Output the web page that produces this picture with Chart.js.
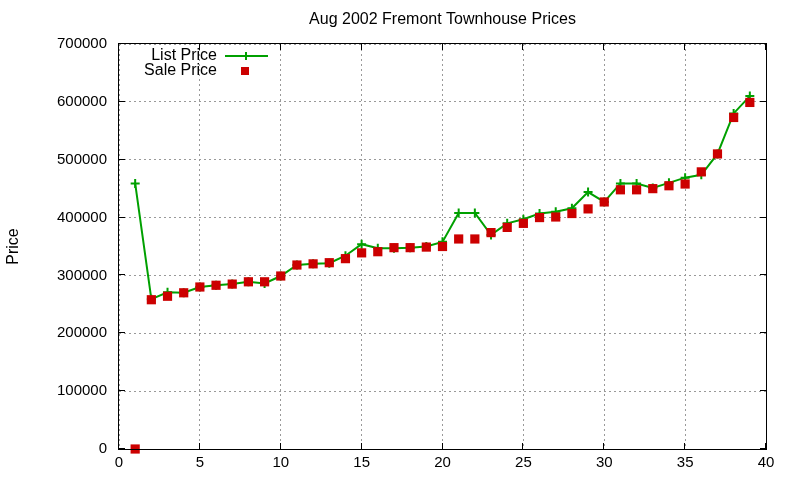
<!DOCTYPE html>
<html>
<head>
<meta charset="utf-8">
<script src="https://cdn.jsdelivr.net/npm/chart.js@4"></script>
<style>
  html, body { margin: 0; padding: 0; background: #fff; }
  #c { display: block; }
</style>
</head>
<body>
<canvas id="c" width="800" height="480"></canvas>
<script>
const houseIndex = [1, 2, 3, 4, 5, 6, 7, 8, 9, 10, 11, 12, 13, 14, 15, 16, 17, 18, 19, 20,
  21, 22, 23, 24, 25, 26, 27, 28, 29, 30, 31, 32, 33, 34, 35, 36, 37, 38, 39];
const listPrice = [459000, 259000, 271000, 270000, 280000, 283000, 285000, 289000, 286000, 299000,
  318000, 320000, 321000, 334000, 354000, 347000, 347000, 348000, 350000, 358000,
  408000, 408000, 370000, 390000, 397000, 407000, 410000, 416000, 444000, 427000,
  459000, 459000, 451000, 460000, 469000, 474000, 510000, 580000, 610000];
const salePrice = [0, 258000, 264000, 270000, 280000, 283000, 285000, 289000, 289000, 299000,
  318000, 320000, 322000, 329000, 339000, 341000, 348000, 348000, 349000, 350000,
  363000, 363000, 374000, 383000, 390000, 400000, 401000, 407000, 415000, 427000,
  448000, 448000, 450000, 455000, 458000, 479000, 510000, 573000, 599000];
const xTicks = [0, 5, 10, 15, 20, 25, 30, 35, 40];
const yTicks = [0, 100000, 200000, 300000, 400000, 500000, 600000, 700000];

const green = '#00a000';
const red = '#cc0000';
const font = '"Liberation Sans", Arial, sans-serif';

// gnuplot look: title, full border, inward ticks, key in the corner
const frame = {
    id: 'frame',
    afterDraw(chart) {
        const ctx = chart.ctx;
        const a = chart.chartArea;
        const xs = chart.scales.x, ys = chart.scales.y;
        ctx.save();
        ctx.fillStyle = '#000';
        ctx.font = '16px ' + font;
        ctx.textAlign = 'center';
        ctx.textBaseline = 'middle';
        ctx.fillText('Aug 2002 Fremont Townhouse Prices', (a.left + a.right) / 2, 20);

        ctx.strokeStyle = '#000';
        ctx.lineWidth = 1;
        ctx.strokeRect(Math.round(a.left) - 0.5, Math.round(a.top) - 0.5,
            Math.round(a.right - a.left) + 1, Math.round(a.bottom - a.top) + 1);
        ctx.beginPath();
        xTicks.forEach(v => {
            const px = Math.round(xs.getPixelForValue(v)) - 0.5;
            ctx.moveTo(px, a.bottom); ctx.lineTo(px, a.bottom - 6);
            ctx.moveTo(px, a.top); ctx.lineTo(px, a.top + 6);
        });
        yTicks.forEach(v => {
            const py = Math.round(ys.getPixelForValue(v)) - 0.5;
            ctx.moveTo(a.left, py); ctx.lineTo(a.left + 6, py);
            ctx.moveTo(a.right, py); ctx.lineTo(a.right - 6, py);
        });
        ctx.stroke();

        // key
        ctx.textAlign = 'right';
        ctx.fillText('List Price', 217, 56);
        ctx.fillText('Sale Price', 217, 71);
        ctx.strokeStyle = green;
        ctx.lineWidth = 2;
        ctx.beginPath();
        ctx.moveTo(225, 56); ctx.lineTo(268, 56);
        ctx.moveTo(246, 52); ctx.lineTo(246, 60);
        ctx.stroke();
        ctx.fillStyle = red;
        ctx.fillRect(241, 67, 8, 8);
        ctx.restore();
    }
};

new Chart(document.getElementById('c'), {
    type: 'line',
    data: {
        datasets: [
            {
                label: 'List Price',
                data: houseIndex.map((x, i) => ({ x: x, y: listPrice[i] })),
                borderColor: green,
                backgroundColor: green,
                borderWidth: 2,
                pointStyle: 'cross',
                pointRadius: 4.5,
                pointBorderWidth: 2,
                tension: 0,
                clip: false,
                order: 1
            },
            {
                label: 'Sale Price',
                data: houseIndex.map((x, i) => ({ x: x, y: salePrice[i] })),
                showLine: false,
                pointStyle: 'rect',
                pointRadius: 6.5,
                pointBorderWidth: 0,
                backgroundColor: red,
                borderColor: red,
                clip: false,
                order: 0
            }
        ]
    },
    options: {
        responsive: false,
        animation: false,
        layout: { padding: { top: 44, right: 34, left: 0, bottom: 0 } },
        plugins: { legend: { display: false }, tooltip: { enabled: false } },
        scales: {
            x: {
                type: 'linear',
                min: 0, max: 40,
                afterBuildTicks: s => { s.ticks = xTicks.map(v => ({ value: v })); },
                afterFit: s => { s.height = 31; },
                ticks: { color: '#000', font: { family: font, size: 15 }, padding: 5 },
                grid: { color: '#999999', drawTicks: false },
                border: { display: false, dash: [2, 3] }
            },
            y: {
                min: 0, max: 700000,
                afterBuildTicks: s => { s.ticks = yTicks.map(v => ({ value: v })); },
                afterFit: s => { s.width = 119; },
                ticks: {
                    color: '#000', font: { family: font, size: 15 }, padding: 12,
                    callback: v => String(v)
                },
                grid: { color: '#999999', drawTicks: false },
                border: { display: false, dash: [2, 3] },
                title: { display: true, text: 'Price', color: '#000', font: { family: font, size: 16 } }
            }
        }
    },
    plugins: [frame]
});
</script>
</body>
</html>
